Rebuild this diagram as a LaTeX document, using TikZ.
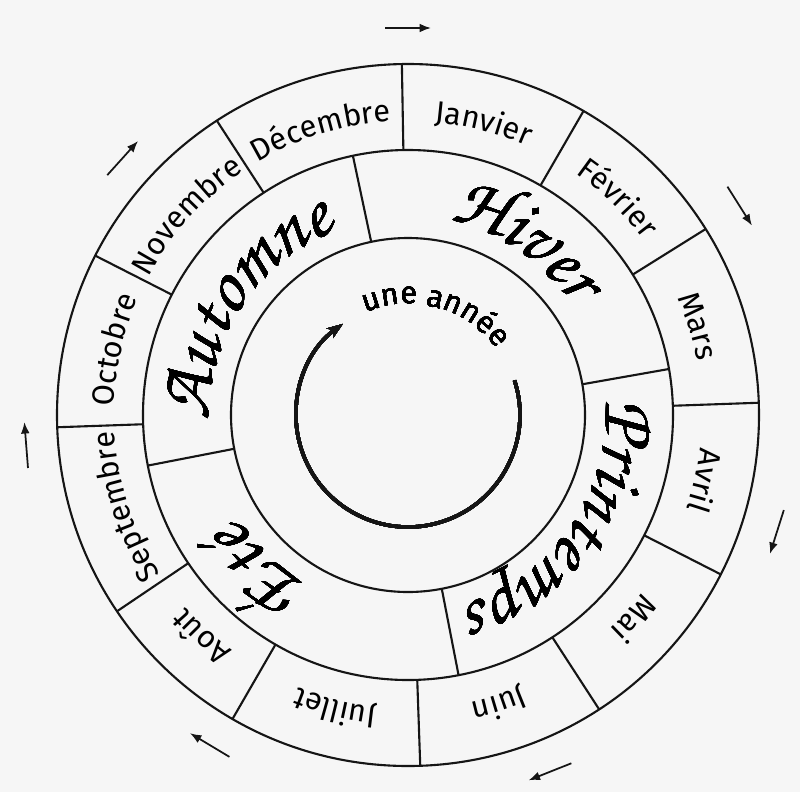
\documentclass[tikz,border=0pt]{standalone}
\usepackage[T1]{fontenc}
\usepackage{fontspec}
\newfontfamily\monthfamily{Fira Sans}
\usepackage{tikz}
\usetikzlibrary{arrows.meta,decorations.text}
\definecolor{paper}{HTML}{F6F6F6}
\definecolor{ink}{HTML}{151515}
\newcommand{\monthfont}{\monthfamily\fontsize{17.5}{17.5}\selectfont}
\newcommand{\seasonfont}{\fontencoding{T1}\fontfamily{pzc}\fontseries{mb}\fontshape{it}\fontsize{43}{43}\selectfont}
\tikzset{
  ring/.style={draw=ink, line width=1.2pt},
  spoke/.style={draw=ink, line width=1.2pt},
  cyclearrow/.style={draw=ink, line width=1pt, -{Latex[length=6.5pt,width=5pt]}},
  yeararrow/.style={draw=ink, line width=2pt, -{Stealth[length=9pt,width=6.5pt]}},
}
% text on a clockwise arc: font, text, mid angle, radius, half span
\newcommand{\arclabel}[5]{%
  \path[decorate, decoration={text along path, text/.expanded={|\noexpand#1|#2}, text align=center}]
    ({#3+#5}:#4) arc[start angle={#3+#5}, end angle={#3-#5}, radius=#4];
}

\begin{document}
\begin{tikzpicture}[x=0.02cm, y=0.02cm]
  \fill[paper] (-408,-377) rectangle (392,415);
  % rings
  \draw[ring] (0,0) circle[radius=351];
  \draw[ring] (0,0) circle[radius=265];
  \draw[ring] (0,0) circle[radius=177];
  % month and season borders
  \foreach \a in {91,60,32,2,-27,-57,-88,-120,-146,-178,-207,-237}
    \draw[spoke] (\a:265) -- (\a:351);
  \foreach \a in {102,10,-79,-169}
    \draw[spoke] (\a:177) -- (\a:265);
  % months
  \foreach \m/\a in {Janvier/75.5, Février/46, Mars/17, Avril/-12.5, Mai/-42, Juin/-72.5,
      Juillet/-104, Août/-133, Septembre/-162, Octobre/-192.5, Novembre/-222, Décembre/-253}
    \arclabel{\monthfont}{\m}{\a}{294}{45}
  % seasons
  \arclabel{\seasonfont}{Hiver}{56}{198}{60}
  \arclabel{\seasonfont}{Printemps}{-34.5}{198}{60}
  \arclabel{\seasonfont}{Été}{-134}{198}{60}
  \arclabel{\seasonfont}{Automne}{146.5}{198}{60}
  % the year
  \arclabel{\monthfont}{une année}{74.5}{111}{70}
  \draw[yeararrow] (18:112) arc[start angle=18, end angle=-234.4, radius=112];
  % arrows round the wheel
  \foreach \a/\r [count=\i] in {90/387, 32.2/392, -17.6/387, -68.3/384, -121/385, -175.5/383, 138/384} {
    \path[rotate=\a] (\r,23) coordinate (as\i) (\r,-23) coordinate (ae\i);
    \draw[cyclearrow] (as\i) -- (ae\i);
  }
\end{tikzpicture}
\end{document}
